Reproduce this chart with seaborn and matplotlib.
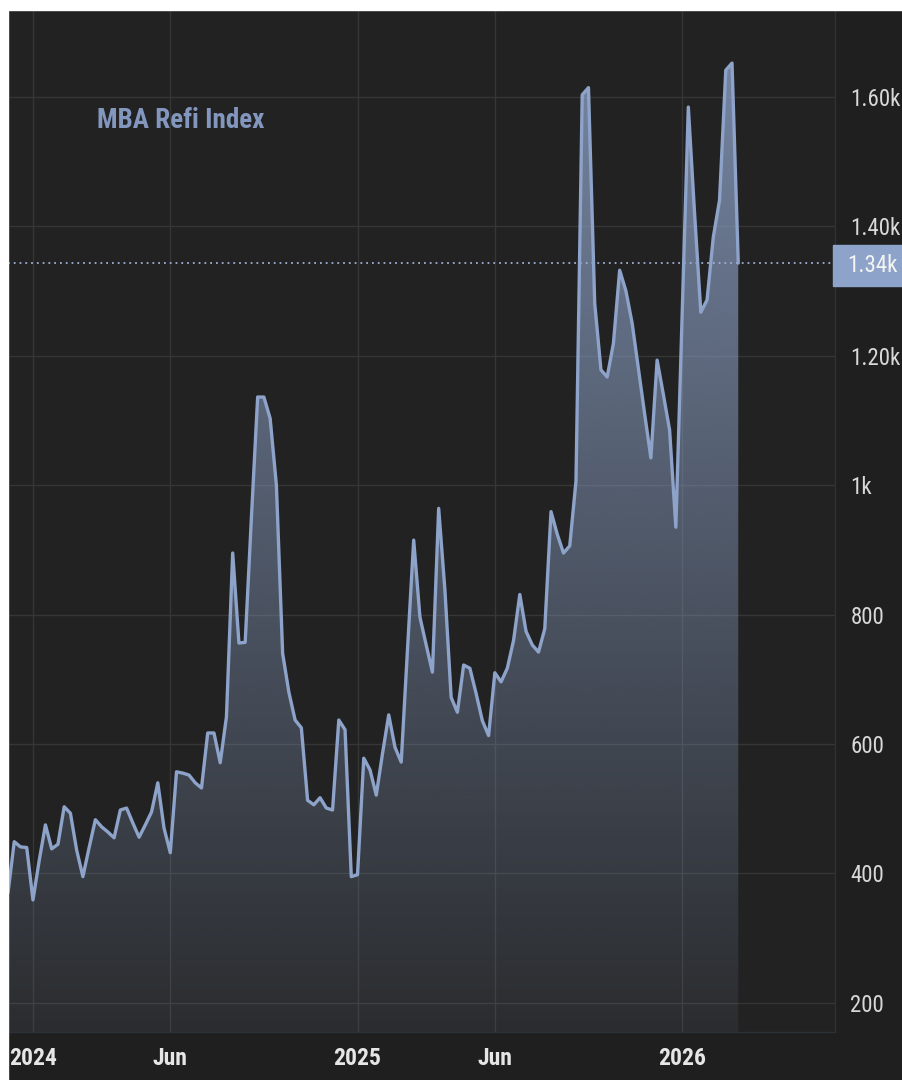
import numpy as np
import pandas as pd
import matplotlib
matplotlib.use("Agg")
import matplotlib.pyplot as plt
from matplotlib.patches import Rectangle
import seaborn as sns

# weekly MBA refinance index
refi_index = [
    370, 449, 441, 440, 359, 420, 475, 438, 445, 503,
    493, 436, 395, 440, 483, 472, 464, 455, 498, 501,
    478, 456, 475, 495, 540, 470, 432, 557, 555, 552,
    540, 532, 617, 617, 571, 642, 895, 756, 757, 950,
    1136, 1136, 1103, 1000, 740, 680, 637, 625, 513, 506,
    517, 501, 498, 637, 622, 395, 398, 578, 560, 521,
    585, 645, 595, 572, 745, 915, 796, 753, 711, 964,
    838, 672, 649, 722, 717, 678, 636, 613, 710, 696,
    717, 760, 831, 774, 753, 742, 778, 959, 924, 895,
    906, 1006, 1603, 1614, 1281, 1178, 1167, 1219, 1332, 1300,
    1250, 1180, 1110, 1042, 1193, 1140, 1085, 935, 1260, 1584,
    1420, 1267, 1286, 1383, 1440, 1641, 1652, 1343,
]
last_week = "2026-03-06"
weeks = pd.date_range(end=last_week, periods=len(refi_index), freq="7D")

x_ticks = ["2024-01-01", "2024-06-01", "2025-01-01", "2025-06-01", "2026-01-01"]
x_labels = ["2024", "Jun", "2025", "Jun", "2026"]
y_ticks = [200, 400, 600, 800, 1000, 1200, 1400, 1600]
y_labels = ["200", "400", "600", "800", "1k", "1.20k", "1.40k", "1.60k"]
title = "MBA Refi Index"

line_color = "#8ea3c9"
bg = "#222222"

sns.set_style("dark", rc={"axes.facecolor": bg, "grid.color": "#363636"})
fam = ["Roboto Condensed", "Liberation Sans Narrow", "Roboto", "DejaVu Sans"]
plt.rcParams["font.family"] = fam

# ordinal time axis: one slot per weekly observation, ticks on the first week of a period
pos = np.arange(len(refi_index))
tick_pos = np.searchsorted(weeks, pd.to_datetime(x_ticks))

fig = plt.figure(figsize=(9.02, 10.8), dpi=100, facecolor="#1f1f1f")
# thin white margin on top and left, as in the screenshot
fig.patches.append(Rectangle((0, 1070 / 1080), 1, 10 / 1080, transform=fig.transFigure,
                             color="white", zorder=10))
fig.patches.append(Rectangle((0, 0), 8 / 902, 1, transform=fig.transFigure,
                             color="white", zorder=10))
ax = fig.add_axes([8 / 902, 48 / 1080, 827 / 902, 1022 / 1080])
ax.set_facecolor(bg)

y_lo, y_hi = 155, 1734

# gradient fill under the line
poly = ax.fill_between(pos, refi_index, y_lo, facecolor="none", edgecolor="none")
n = 256
rgba = np.zeros((n, 1, 4))
rgba[..., :3] = matplotlib.colors.to_rgb(line_color)
rgba[..., 3] = np.linspace(0.08, 0.80, n)[:, None]
img = ax.imshow(rgba, extent=[pos[0], pos[-1], y_lo, y_hi], origin="lower", aspect="auto",
                interpolation="bicubic", zorder=1)
img.set_clip_path(poly.get_paths()[0], transform=ax.transData)

sns.lineplot(x=pos, y=refi_index, ax=ax, color=line_color, linewidth=2.4, zorder=3)

latest = refi_index[-1]
ax.axhline(latest, color="#9fb0d4", linestyle=(0, (1, 2.2)), linewidth=1.3, zorder=2)

ax.set_xlim(pos[0], pos[-1] + 15.5)
ax.set_ylim(y_lo, y_hi)
ax.grid(True, color="#363636", linewidth=1)

ax.set_xticks(tick_pos)
ax.set_xticklabels(x_labels, fontsize=17, fontweight="bold", color="#e6e6e6")
ax.yaxis.tick_right()
ax.set_yticks(y_ticks)
ax.set_yticklabels(y_labels, fontsize=16.5, color="#d8d8d8")
ax.tick_params(axis="x", length=0, pad=11)
ax.tick_params(axis="y", length=0, pad=11)
ax.set_xlabel("")
ax.set_ylabel("")

for side in ["top", "left"]:
    ax.spines[side].set_visible(False)
for side in ["right", "bottom"]:
    ax.spines[side].set_color("#2b303a")
    ax.spines[side].set_linewidth(1)

ax.text((97 - 8) / 827, (1032 - 120) / 1022, title, transform=ax.transAxes,
        fontsize=19.5, fontweight="bold", color="#8296be", va="center", ha="left")

# latest value tag on the right axis
fig.patches.append(Rectangle((833 / 902, (1080 - 286) / 1080), 69 / 902, 41 / 1080,
                             transform=fig.transFigure, color=line_color, zorder=5))
fig.text(847 / 902, (1080 - 266) / 1080, f"{latest / 1000:.2f}k", fontsize=16.5,
         color="#f4f4f4", va="center", ha="left", zorder=6)

fig.savefig("out.png", dpi=100, facecolor=fig.get_facecolor())
